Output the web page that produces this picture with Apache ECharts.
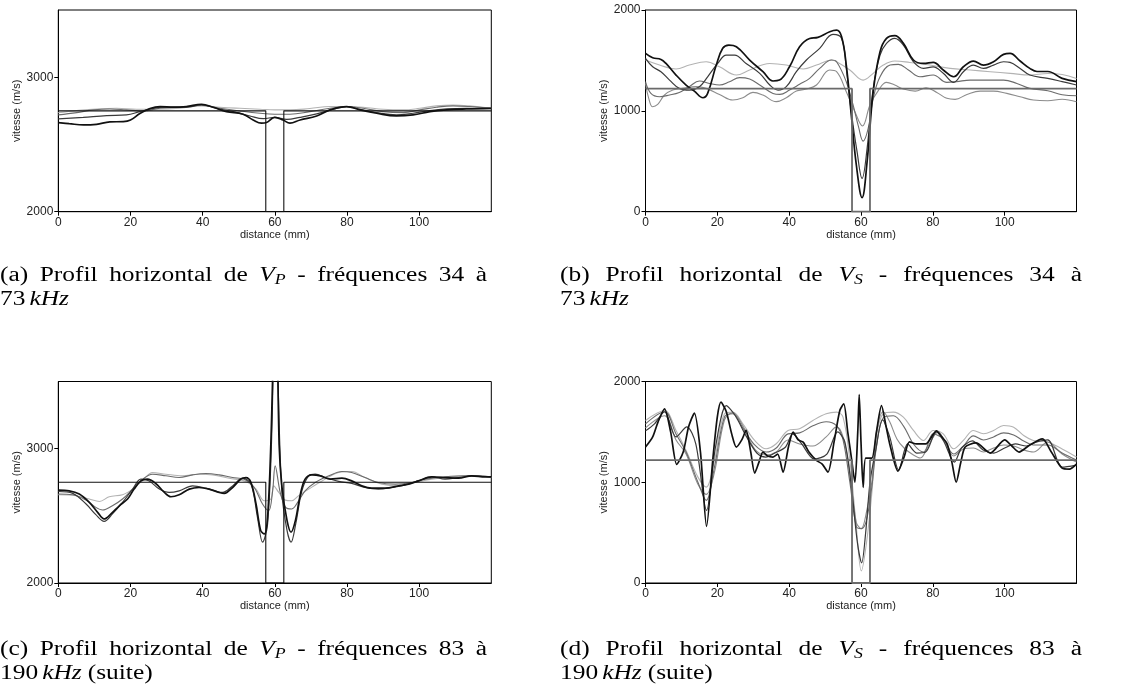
<!DOCTYPE html>
<html><head><meta charset="utf-8">
<script src="https://cdn.jsdelivr.net/npm/echarts@6/dist/echarts.min.js"></script>
<style>html,body{margin:0;padding:0;background:#fff}#c{width:1125px;height:695px}</style>
</head><body><div id="c"></div>
<script>
// ---------------- DATA (distance mm, vitesse m/s) ----------------
const xTicks = [0, 20, 40, 60, 80, 100];
const yTicksP = [2000, 3000];
const yTicksS = [0, 1000, 2000];

// (a) Vp 34-73 kHz
const aModel = [[0,2750],[57.5,2750],[57.5,2000],[62.5,2000],[62.5,2750],[120,2750]];
const aA = [[0,2663],[3,2655],[7,2645],[10.6,2650],[14.3,2668],[18,2670],[20,2682],[22.6,2730],[25.4,2768],[28.2,2782],[31.9,2777],[35.5,2782],[39.7,2799],[42.9,2777],[46.6,2744],[51.2,2725],[54,2682],[56.3,2658],[57.7,2663],[60,2702],[62.3,2682],[64.2,2658],[67,2682],[71.6,2712],[75.3,2757],[79.9,2782],[83.6,2757],[88.2,2732],[93.7,2712],[98.3,2720],[103,2744],[107.6,2757],[113.1,2764],[120,2769]];
const aB = [[0,2690],[6.9,2702],[13.4,2715],[18.9,2720],[22.6,2744],[26.3,2769],[30,2777],[35.5,2777],[39.7,2794],[43.9,2769],[48.5,2744],[53.1,2712],[56.8,2692],[60,2702],[63.3,2687],[67,2702],[71.6,2727],[76.2,2762],[79.9,2782],[83.6,2762],[88.2,2737],[93.7,2720],[98.3,2732],[103,2752],[107.6,2764],[113.1,2769],[120,2769]];
const aC = [[0,2720],[5.1,2737],[9.7,2757],[14.3,2764],[18.9,2757],[23.5,2749],[28.2,2769],[33.7,2777],[39.7,2792],[44.8,2769],[50.3,2749],[55.9,2732],[60,2725],[64.2,2725],[69.7,2744],[75.3,2769],[79.9,2782],[84.5,2769],[90,2744],[95.6,2737],[100.2,2757],[104.8,2777],[109.4,2787],[114,2782],[120,2769]];
const aE = [[0,2737],[5.1,2752],[10.6,2764],[16.2,2769],[21.7,2762],[27.2,2762],[33.7,2769],[39.7,2787],[44.8,2777],[50.3,2769],[55.9,2762],[60,2757],[64.2,2757],[69.7,2767],[75.3,2782],[79.9,2782],[84.5,2777],[90,2762],[95.6,2757],[100.2,2769],[104.8,2787],[109.4,2794],[114,2787],[120,2769]];

// (b) Vs 34-73 kHz
const bModel = [[0,1220],[57.5,1220],[57.5,0],[62.5,0],[62.5,1220],[120,1220]];
const bA = [[0,1570],[2,1527],[4.3,1510],[5.7,1470],[8.5,1355],[11.3,1256],[13.6,1196],[16,1130],[17.3,1173],[19.7,1454],[21.5,1620],[23.2,1652],[25.3,1636],[29,1504],[32.7,1388],[35.5,1296],[37.3,1305],[40.1,1437],[42.9,1636],[45.7,1718],[48,1728],[51.3,1785],[53.2,1800],[54.6,1735],[55.9,1454],[57.3,958],[58.7,463],[60.3,139],[61.7,496],[63.4,1190],[65.3,1586],[67.1,1718],[69.4,1745],[71.8,1669],[74.6,1504],[77.4,1470],[80.1,1480],[82.9,1405],[85.8,1338],[88.5,1437],[91.3,1494],[94.1,1454],[96.9,1487],[99.7,1560],[101.5,1570],[104.3,1494],[107,1421],[109,1390],[112,1390],[116,1322],[120,1290]];
const bB = [[0,1520],[2,1437],[4.3,1388],[6.7,1305],[9.4,1223],[12.2,1206],[15,1240],[17.3,1338],[20.1,1470],[22.5,1553],[24.8,1553],[28,1470],[31.8,1372],[34.6,1256],[36.9,1206],[39.2,1240],[42,1388],[44.8,1504],[48.5,1620],[52.2,1758],[54.6,1718],[55.9,1421],[57.3,991],[58.9,595],[60.3,330],[61.7,628],[63.4,1223],[65.3,1553],[67.1,1669],[69.4,1718],[71.8,1652],[74.6,1487],[77.4,1421],[80.1,1437],[82.9,1372],[85.8,1282],[88.5,1388],[91.3,1454],[94.1,1421],[96.9,1454],[99.7,1487],[101.5,1480],[104.3,1421],[107,1355],[112,1322],[116,1290],[120,1256]];
const bC = [[0,1289],[1.5,1173],[3.9,1140],[6.7,1157],[9.4,1183],[12.2,1240],[15,1296],[17.8,1272],[20.6,1256],[23.4,1289],[26.2,1329],[29,1315],[31.8,1256],[35.5,1173],[37.4,1163],[40.1,1206],[42.9,1263],[45.7,1322],[48.5,1421],[51.8,1504],[53.2,1487],[55.9,1289],[57.8,1058],[59.3,843],[60.6,700],[62,826],[63.4,1124],[65.3,1338],[68.1,1454],[70.4,1461],[73.2,1405],[76.4,1338],[80.1,1355],[83.9,1282],[86.6,1289],[90.4,1305],[95,1305],[99.7,1305],[103.4,1272],[107,1223],[112,1200],[116,1160],[120,1150]];
const bD = [[0,1272],[0.9,1124],[2,1041],[3.4,1064],[5.3,1157],[7.6,1206],[10.4,1223],[14.1,1240],[16.9,1223],[20.6,1163],[24.3,1107],[27.1,1130],[29.9,1183],[32.7,1157],[36.4,1091],[39.2,1130],[42,1196],[44.8,1216],[47.6,1256],[51.3,1405],[53.2,1388],[55.9,1190],[58.3,991],[60.4,850],[62.5,1058],[64.9,1206],[67.1,1282],[69.4,1256],[71.8,1216],[75.1,1196],[78.1,1229],[81.1,1183],[83.9,1124],[86.2,1114],[89.5,1163],[93.2,1196],[96.9,1196],[100.6,1173],[104.3,1140],[108,1107],[112,1100],[116,1115],[120,1090]];
const bE = [[0,1504],[3.9,1454],[8.5,1415],[12.2,1454],[16.9,1487],[20.6,1437],[25.3,1355],[29,1405],[34.6,1470],[39.2,1454],[43.9,1415],[47.6,1454],[51.8,1504],[53.2,1487],[56.9,1405],[60.6,1305],[63.4,1372],[66.2,1454],[69.4,1494],[73.6,1480],[79.2,1454],[84.8,1421],[90.4,1405],[96,1388],[101.5,1372],[107,1355],[112,1370],[116,1360],[120,1320]];

// (c) Vp 83-190 kHz
const cModel = [[0,2750],[57.5,2750],[57.5,2000],[62.5,2000],[62.5,2750],[120,2750]];
const cA = [[0,2691],[3,2686],[5.8,2662],[8.6,2600],[10.9,2526],[12.7,2477],[14.6,2514],[16.9,2575],[19.2,2625],[21,2699],[22.9,2760],[24.7,2773],[27,2741],[29.4,2674],[31.2,2642],[33.5,2657],[36.3,2699],[39,2711],[41.8,2699],[44.6,2674],[46,2667],[48.3,2711],[50.6,2773],[52,2785],[53.4,2748],[54.8,2588],[56.1,2390],[57.1,2365],[58,2489],[58.9,3032],[60.3,4300],[61.2,3032],[62,2711],[63.4,2464],[64.5,2378],[65.7,2464],[67.1,2662],[68.4,2773],[70.3,2805],[72.6,2798],[75.4,2773],[78.6,2780],[81.3,2760],[84.1,2723],[86.9,2706],[90.6,2706],[94.3,2723],[97.1,2736],[99.8,2760],[103.5,2790],[107.2,2785],[110.9,2780],[114.6,2798],[118.3,2790],[120,2790]];
const cB = [[0,2681],[4,2667],[7.7,2588],[10.4,2509],[12.7,2459],[15,2514],[17.8,2600],[20.6,2699],[22.9,2773],[25.2,2760],[28,2699],[30.7,2674],[33.5,2686],[37.2,2723],[40.9,2706],[45.5,2674],[48.3,2723],[51.1,2780],[53.4,2736],[55.2,2489],[56.6,2304],[58,2440],[59.2,3156],[60.2,4500],[61,3400],[62,2662],[63.4,2390],[64.5,2304],[65.8,2440],[67.5,2686],[69.4,2798],[71.2,2810],[74,2785],[77.7,2756],[81.3,2741],[85,2711],[88.7,2699],[92.4,2711],[96.1,2731],[99.8,2760],[103.5,2790],[107.2,2773],[110.9,2785],[114.6,2798],[120,2790]];
const cC = [[0,2662],[4,2657],[7.7,2617],[10.4,2563],[12.3,2543],[15,2575],[17.8,2625],[20.6,2699],[23.4,2773],[26.1,2810],[29.8,2798],[33.5,2785],[37.2,2805],[40.9,2815],[44.6,2805],[48.3,2785],[51.5,2773],[54.3,2711],[56.6,2588],[58.3,2538],[59.4,2686],[60.1,2872],[61.5,2674],[63,2563],[64.7,2551],[66.6,2612],[68.4,2686],[71.2,2748],[75,2798],[78.6,2830],[81.3,2822],[85,2785],[88.7,2748],[93.4,2736],[98,2748],[101.7,2773],[107.2,2790],[112.8,2798],[120,2790]];
const cE = [[0,2657],[4.9,2650],[8.6,2625],[11.4,2607],[14.1,2642],[17.8,2657],[20.6,2699],[23.4,2765],[26.1,2822],[29.8,2810],[34.4,2798],[39,2810],[42.8,2805],[47.4,2780],[52,2756],[54.8,2699],[57.1,2612],[58.9,2625],[59.7,2723],[61.1,2674],[62.9,2617],[64.7,2612],[66.6,2650],[69.4,2699],[73.1,2760],[77.7,2822],[81.3,2830],[85,2785],[89.7,2736],[94.3,2723],[98.9,2748],[103.5,2773],[109.1,2790],[114.6,2798],[120,2785]];

// (d) Vs 83-190 kHz
const dModel = [[0,1220],[57.5,1220],[57.5,0],[62.5,0],[62.5,1220],[120,1220]];
const dA = [[0,1349],[2,1450],[3.5,1600],[5.3,1729],[7,1500],[8.7,1177],[10.5,1300],[12,1550],[13.6,1686],[15.3,1300],[17,562],[18.8,1250],[20,1650],[21,1795],[22.5,1700],[24,1480],[25.3,1349],[26.8,1420],[28,1514],[29.3,1300],[30.4,1091],[31.6,1200],[32.7,1299],[34,1260],[35.5,1250],[36.8,1280],[38.3,1101],[39.8,1350],[41.1,1498],[42.5,1420],[43.9,1398],[45.5,1300],[47.6,1217],[49.2,1180],[50.8,1101],[52.5,1400],[54.1,1712],[55.2,1779],[56.3,1500],[57.3,1250],[58.3,1000],[59.1,1500],[59.5,1870],[60,1400],[60.6,950],[61.3,1240],[63,1240],[64.3,1500],[65.7,1760],[67,1550],[68,1380],[70.3,1110],[72,1250],[73.5,1400],[75.5,1380],[78,1380],[81,1510],[82.5,1450],[84,1380],[85.3,1200],[86.5,1000],[87.8,1200],[89,1350],[92,1390],[96,1290],[100,1420],[102,1360],[104,1300],[107,1370],[110.5,1430],[113,1300],[116,1140],[118,1130],[120,1180]];
const dB = [[0,1510],[2.5,1580],[5.3,1700],[8.5,1450],[11.5,1550],[14,1380],[17,720],[19.5,1350],[22.5,1760],[25,1660],[28,1460],[31,1290],[33.5,1250],[36,1290],[39,1350],[41,1480],[43.5,1380],[47,1230],[50.5,1280],[53.5,1500],[55.5,1400],[57.5,900],[59,400],[60.2,200],[61.3,500],[62.5,1000],[64,1300],[66,1620],[68,1450],[70.5,1120],[73,1380],[75.5,1290],[78,1300],[81,1500],[83,1410],[86,1200],[88,1340],[91,1410],[94,1320],[97,1290],[100,1340],[103,1380],[106,1360],[109,1400],[112,1420],[116,1150],[120,1170]];
const dC = [[0,1580],[5.3,1700],[8.5,1480],[11.3,1300],[14.6,1000],[16.9,820],[19.2,1150],[22,1650],[24.3,1680],[27.1,1540],[30.4,1370],[33.6,1300],[36.4,1340],[39.7,1480],[42.9,1490],[46.6,1560],[50.3,1600],[53.2,1560],[55,1420],[56.9,1000],[58.7,560],[60.1,540],[61.5,620],[63,950],[64.3,1350],[66.2,1640],[69,1660],[71.8,1560],[74.6,1380],[77.4,1300],[80.1,1480],[82.9,1430],[85.8,1280],[88.5,1360],[91.3,1460],[94.1,1420],[96.9,1450],[99.7,1490],[102.5,1470],[105.3,1410],[108,1370],[112,1370],[116,1290],[120,1220]];
const dD = [[0,1540],[5.3,1660],[8.5,1420],[11.3,1280],[14.6,980],[16.9,880],[19.2,1100],[22,1620],[24.3,1690],[27.1,1560],[30.4,1330],[33.6,1270],[36.4,1300],[39.7,1420],[42.9,1380],[46.6,1360],[50.3,1450],[53.2,1550],[55,1450],[56.9,1100],[58.7,600],[60.1,540],[61.5,700],[63,1000],[64.3,1500],[66.2,1700],[68,1600],[70,1430],[72,1340],[74.6,1270],[76.5,1240],[79,1380],[81.5,1500],[83,1430],[85.8,1260],[88.5,1330],[91.3,1340],[94.1,1300],[96.9,1340],[99.7,1370],[102.5,1360],[105.3,1320],[108,1300],[112,1400],[116,1280],[120,1200]];
const dE = [[0,1613],[5.3,1712],[8.5,1514],[11.3,1316],[14.6,1051],[16.9,952],[19.2,1217],[22,1680],[24.3,1696],[27.1,1580],[30.4,1415],[33.6,1332],[36.4,1382],[39.7,1514],[42.9,1531],[46.6,1613],[50.3,1680],[53.2,1696],[55,1646],[56.9,1217],[58.7,555],[60.1,120],[61.5,390],[63,886],[64.3,1448],[66.2,1680],[69,1696],[71.8,1646],[74.6,1514],[77.4,1415],[80.1,1514],[82.9,1481],[85.8,1332],[88.5,1415],[91.3,1514],[94.1,1481],[96.9,1514],[99.7,1564],[102.5,1547],[105.3,1464],[108,1415],[112,1400],[116,1330],[120,1250]];

// captions
const capWordsA = ['(a)','Profil','horizontal','de','V_P','-','fréquences','34','à'];
const capWordsB = ['(b)','Profil','horizontal','de','V_S','-','fréquences','34','à'];
const capWordsC = ['(c)','Profil','horizontal','de','V_P','-','fréquences','83','à'];
const capWordsD = ['(d)','Profil','horizontal','de','V_S','-','fréquences','83','à'];
const capLine2AB = ['73', 'kHz', ''];
const capLine2CD = ['190', 'kHz', '(suite)'];

// ---------------- LAYOUT ----------------
const SANS = '"Liberation Sans", Arial, sans-serif';
const grids = [
  {left: 58.3, top: 10, width: 433, height: 201.7},
  {left: 645.5, top: 10, width: 431, height: 201.7},
  {left: 58.3, top: 381.5, width: 433, height: 201.5},
  {left: 645.5, top: 381.5, width: 431, height: 201.5}
];
const yRanges = [[2000,3500,yTicksP],[0,2000,yTicksS],[2000,3500,yTicksP],[0,2000,yTicksS]];

const option = {
  animation: false,
  backgroundColor: '#fff',
  grid: grids.map(g => Object.assign({show: true, borderColor: '#000', borderWidth: 1, backgroundColor: 'transparent', containLabel: false, outerBoundsMode: 'none'}, g)),
  xAxis: grids.map((g, i) => ({
    gridIndex: i, type: 'value', min: 0, max: 120, interval: 20,
    axisLine: {show: true, onZero: false, lineStyle: {color: '#000', width: 1}},
    axisTick: {show: true, length: 4, inside: false, customValues: xTicks, lineStyle: {color: '#000'}},
    axisLabel: {show: true, customValues: xTicks, fontSize: 12, color: '#222', fontFamily: SANS, margin: 5,
      formatter: v => (v >= 120 ? '' : String(v))},
    splitLine: {show: false},
    name: 'distance (mm)', nameLocation: 'middle', nameGap: 17,
    nameTextStyle: {fontSize: 11, color: '#222', fontFamily: SANS}
  })),
  yAxis: grids.map((g, i) => ({
    gridIndex: i, type: 'value', min: yRanges[i][0], max: yRanges[i][1], interval: 500,
    axisLine: {show: true, onZero: false, lineStyle: {color: '#000', width: 1}},
    axisTick: {show: true, length: 4, inside: false, customValues: yRanges[i][2], lineStyle: {color: '#000'}},
    axisLabel: {show: true, customValues: yRanges[i][2], fontSize: 12, color: '#222', fontFamily: SANS, margin: 5,
      formatter: v => (yRanges[i][2].indexOf(v) >= 0 ? String(v) : '')},
    splitLine: {show: false},
    name: 'vitesse (m/s)', nameLocation: 'middle', nameGap: 36,
    nameTextStyle: {fontSize: 11, color: '#222', fontFamily: SANS}
  })),
  series: [],
  graphic: []
};

const styles = {
  E: {color: '#b3b3b3', width: 1.1},
  D: {color: '#8c8c8c', width: 1.1},
  C: {color: '#6b6b6b', width: 1.1},
  B: {color: '#3a3a3a', width: 1.2},
  A: {color: '#111111', width: 1.7}
};
function addLine(i, data, st, smooth) {
  option.series.push({
    type: 'line', xAxisIndex: i, yAxisIndex: i, data: data, smooth: smooth,
    showSymbol: false, symbol: 'none', clip: true, silent: true,
    lineStyle: {color: st.color, width: st.width}, z: 2
  });
}
addLine(0, aE, styles.E, 0.4); addLine(0, aC, styles.C, 0.4); addLine(0, aB, styles.B, 0.4); addLine(0, aA, styles.A, 0.4);
addLine(0, aModel, {color: '#111', width: 1.1}, false);
addLine(1, bE, styles.E, 0.4); addLine(1, bD, styles.D, 0.4); addLine(1, bC, styles.C, 0.4); addLine(1, bB, styles.B, 0.4); addLine(1, bA, styles.A, 0.4);
addLine(1, bModel, {color: '#6a6a6a', width: 1.8}, false);
addLine(2, cE, styles.E, 0.35); addLine(2, cC, styles.C, 0.35); addLine(2, cB, styles.B, 0.35); addLine(2, cA, styles.A, 0.35);
addLine(2, cModel, {color: '#111', width: 1.1}, false);
addLine(3, dE, styles.E, 0.35); addLine(3, dD, styles.D, 0.35); addLine(3, dC, styles.C, 0.35); addLine(3, dB, styles.B, 0.3); addLine(3, dA, styles.A, 0.25);
addLine(3, dModel, {color: '#6a6a6a', width: 1.8}, false);

// ---------------- CAPTIONS (justified first line, CM-like width) ----------------
const SERIF = '"Liberation Serif", "Times New Roman", serif';
const FS = 20;
const WORD_GAP = 11.5;
const mctx = document.createElement('canvas').getContext('2d');
function segsOf(w) {
  if (w === 'V_P') return [{t: 'V', it: true}, {t: 'P', it: true, sub: true}];
  if (w === 'V_S') return [{t: 'V', it: true}, {t: 'S', it: true, sub: true}];
  if (w === 'kHz') return [{t: 'kHz', it: true}];
  return [{t: w}];
}
function segFont(s) { return (s.it ? 'italic ' : '') + (s.sub ? Math.round(FS * 0.72) : FS) + 'px ' + SERIF; }
function segW(s) { mctx.font = segFont(s); return mctx.measureText(s.t).width; }
function wordW(w) { return segsOf(w).reduce((a, s) => a + segW(s), 0); }
function placeWord(w, x, yc, sx) {
  let cx = x;
  segsOf(w).forEach(s => {
    option.graphic.push({type: 'text', x: cx, y: yc + (s.sub ? FS * 0.22 : 0), scaleX: sx, silent: true,
      style: {text: s.t, font: segFont(s), fill: '#000', textAlign: 'left', textVerticalAlign: 'middle', align: 'left', verticalAlign: 'middle'}});
    cx += segW(s) * sx;
  });
}
function capScale(words, x0, x1) {
  const total = words.map(wordW).reduce((a, b) => a + b, 0);
  return (x1 - x0 - WORD_GAP * (words.length - 1)) / total;
}
function justified(words, x0, x1, yc, sx) {
  const ws = words.map(w => wordW(w) * sx);
  const total = ws.reduce((a, b) => a + b, 0);
  const gap = (x1 - x0 - total) / (words.length - 1);
  let x = x0;
  words.forEach((w, k) => { placeWord(w, x, yc, sx); x += ws[k] + gap; });
}
function line2(parts, x0, yc, sx) {
  let x = x0;
  placeWord(parts[0], x, yc, sx); x += wordW(parts[0]) * sx + FS * 0.2;
  placeWord(parts[1], x, yc, sx); x += wordW(parts[1]) * sx + FS * 0.3;
  if (parts[2]) placeWord(parts[2], x, yc, sx);
}
const capL = [0, 560], capR = [487, 1082], capY1 = [276, 650], capY2 = [300, 674];
const SX = capScale(capWordsA, capL[0], capR[0]);
justified(capWordsA, capL[0], capR[0], capY1[0], SX); line2(capLine2AB, capL[0], capY2[0], SX);
justified(capWordsB, capL[1], capR[1], capY1[0], SX); line2(capLine2AB, capL[1], capY2[0], SX);
justified(capWordsC, capL[0], capR[0], capY1[1], SX); line2(capLine2CD, capL[0], capY2[1], SX);
justified(capWordsD, capL[1], capR[1], capY1[1], SX); line2(capLine2CD, capL[1], capY2[1], SX);

const chart = echarts.init(document.getElementById('c'), null, {renderer: 'canvas'});
chart.setOption(option);
</script></body></html>
